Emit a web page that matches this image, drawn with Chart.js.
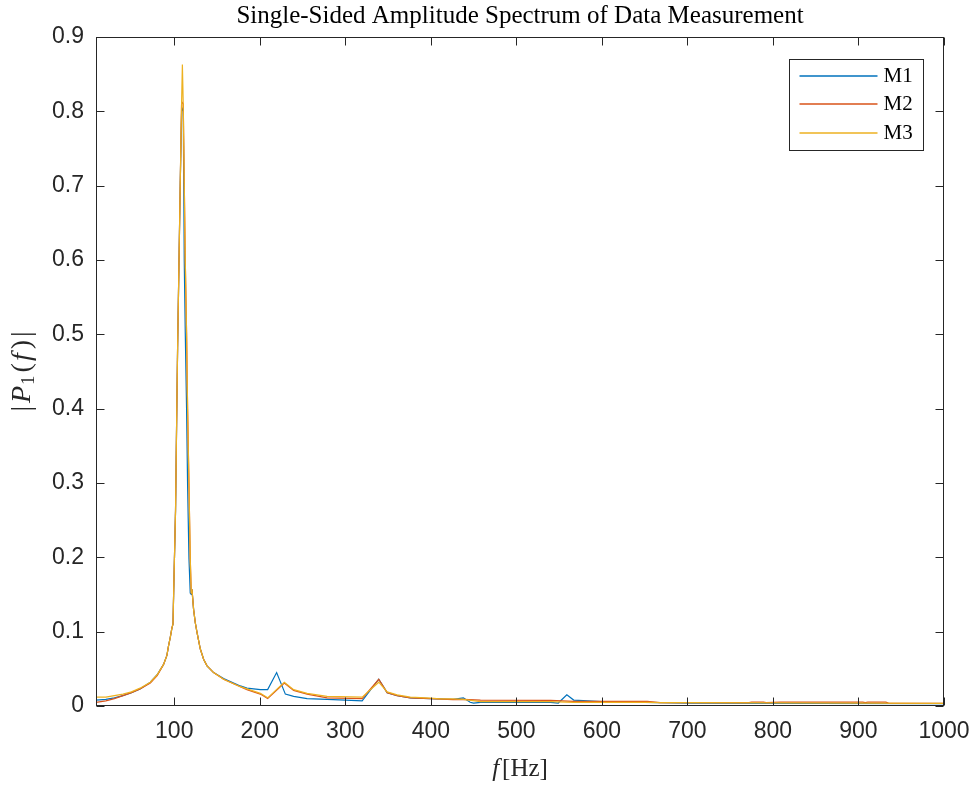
<!DOCTYPE html>
<html>
<head>
<meta charset="utf-8">
<script src="https://cdn.jsdelivr.net/npm/chart.js@4"></script>
<style>
  html, body { margin: 0; padding: 0; background: #fff; }
  #spec { display: block; }
</style>
</head>
<body>
<canvas id="spec" width="976" height="787"></canvas>
<script>
const freqM1 = [8.5, 20, 30, 40, 50, 60, 72, 80, 87.5, 91.4, 93.3, 95.3, 97.3, 98.5, 99.3, 101.5, 102.7, 103.9, 105.5, 107, 108.6, 110.5, 111.7, 112.9, 114.4, 115.6, 117.2, 118.7, 119.9, 120.7, 122.6, 124.6, 126.6, 128.5, 130.4, 134.3, 138.3, 146, 157.7, 169.4, 177.2, 185, 200.7, 209.2, 219.7, 229.9, 239.6, 255.3, 278.7, 300, 319.7, 339.1, 348.9, 360.6, 376, 399.4, 426, 438, 446, 450, 458, 540, 549, 559, 567, 600, 700, 1000];
const ampM1  = [0.008, 0.009, 0.011, 0.014, 0.018, 0.023, 0.032, 0.042, 0.056, 0.068, 0.081, 0.092, 0.105, 0.11, 0.152, 0.263, 0.374, 0.481, 0.595, 0.703, 0.8, 0.805, 0.598, 0.501, 0.4, 0.297, 0.198, 0.152, 0.15, 0.157, 0.13, 0.112, 0.099, 0.088, 0.077, 0.063, 0.054, 0.045, 0.037, 0.031, 0.027, 0.024, 0.022, 0.022, 0.045, 0.016, 0.013, 0.01, 0.009, 0.008, 0.007, 0.036, 0.018, 0.014, 0.011, 0.01, 0.009, 0.011, 0.005, 0.004, 0.005, 0.005, 0.004, 0.015, 0.008, 0.006, 0.004, 0.003];

const freqM2 = [8.5, 20, 30, 40, 50, 60, 72, 80, 87.5, 91.4, 93.3, 95.3, 97.3, 98.5, 99.3, 101.5, 102.7, 103.9, 105.5, 107, 108.6, 110.5, 111.7, 112.9, 114.4, 115.6, 117.2, 118.7, 119.9, 120.7, 122.6, 124.6, 126.6, 128.5, 130.4, 134.3, 138.3, 146, 157.7, 169.4, 177.2, 185, 200.7, 209.2, 228.7, 239.6, 255.3, 278.7, 319.7, 339.1, 348.9, 360.6, 376, 399.4, 426, 438, 458, 540, 567, 653, 668, 772, 775, 789, 792, 809, 905, 908, 911, 932, 935, 1000];
const ampM2  = [0.005, 0.007, 0.01, 0.014, 0.018, 0.023, 0.031, 0.041, 0.056, 0.068, 0.081, 0.092, 0.105, 0.11, 0.152, 0.263, 0.374, 0.481, 0.595, 0.703, 0.813, 0.81, 0.703, 0.598, 0.501, 0.4, 0.297, 0.198, 0.152, 0.157, 0.13, 0.112, 0.099, 0.088, 0.077, 0.063, 0.054, 0.045, 0.036, 0.03, 0.026, 0.022, 0.016, 0.01, 0.031, 0.021, 0.016, 0.011, 0.01, 0.036, 0.018, 0.014, 0.011, 0.01, 0.0085, 0.009, 0.008, 0.0077, 0.0063, 0.0063, 0.0045, 0.0045, 0.0052, 0.0052, 0.0045, 0.0052, 0.0052, 0.0045, 0.0052, 0.0052, 0.0038, 0.0035];

const freqM3 = [8.5, 20, 30, 40, 50, 60, 72, 80, 87.5, 91.4, 93.3, 95.3, 97.3, 98.5, 99.3, 101.5, 102.7, 103.9, 105.5, 107, 108.6, 109.5, 110.5, 111.7, 112.9, 114.4, 115.6, 117.2, 118.7, 119.9, 120.7, 122.6, 124.6, 126.6, 128.5, 130.4, 134.3, 138.3, 146, 157.7, 169.4, 177.2, 185, 200.7, 209.2, 228.7, 239.6, 255.3, 278.7, 319.7, 339.1, 348.9, 360.6, 376, 399.4, 411, 426, 438, 458, 540, 567, 653, 668, 700, 800, 900, 1000];
const ampM3  = [0.012, 0.012, 0.014, 0.016, 0.019, 0.024, 0.032, 0.042, 0.056, 0.068, 0.081, 0.092, 0.105, 0.11, 0.152, 0.263, 0.374, 0.481, 0.595, 0.703, 0.813, 0.863, 0.81, 0.703, 0.598, 0.501, 0.4, 0.297, 0.198, 0.152, 0.157, 0.13, 0.112, 0.099, 0.088, 0.077, 0.063, 0.054, 0.045, 0.036, 0.03, 0.026, 0.023, 0.017, 0.011, 0.032, 0.022, 0.017, 0.013, 0.012, 0.032, 0.019, 0.015, 0.012, 0.0105, 0.0095, 0.0095, 0.009, 0.006, 0.006, 0.005, 0.005, 0.0045, 0.0045, 0.0042, 0.004, 0.0036];

const seriesNames = ['M1', 'M2', 'M3'];
const seriesColors = ['#0072BD', '#D95319', '#EDB120'];
const xTicks = [100, 200, 300, 400, 500, 600, 700, 800, 900, 1000];

function pairs(fs, as) {
  return fs.map((f, i) => ({x: f, y: as[i]}));
}

const serif = '"Liberation Serif", "DejaVu Serif", serif';
const sans = '"Liberation Sans", Arial, sans-serif';

// draws a run of differently styled text pieces centred on (cx, cy)
function drawRich(ctx, parts, cx, cy) {
  let w = 0;
  parts.forEach(p => { ctx.font = p.font; w += ctx.measureText(p.t).width + (p.gap || 0); });
  let x = cx - w / 2;
  parts.forEach(p => {
    ctx.font = p.font;
    ctx.fillText(p.t, x, cy + (p.dy || 0));
    x += ctx.measureText(p.t).width + (p.gap || 0);
  });
}

const matlabFrame = {
  id: 'matlabFrame',
  afterDraw(chart) {
    const {ctx, chartArea: a, scales} = chart;
    const L = Math.round(a.left) + 0.5, R = Math.round(a.right) - 0.5;
    const T = Math.round(a.top) + 0.5, B = Math.round(a.bottom) - 0.5;
    ctx.save();
    ctx.strokeStyle = '#262626';
    ctx.lineWidth = 1;
    ctx.strokeRect(L, T, R - L, B - T);
    ctx.beginPath();
    scales.x.ticks.forEach(t => {
      const px = Math.round(scales.x.getPixelForValue(t.value)) + 0.5;
      ctx.moveTo(px, B); ctx.lineTo(px, B - 8);
      ctx.moveTo(px, T); ctx.lineTo(px, T + 8);
    });
    scales.y.ticks.forEach(t => {
      const py = Math.round(scales.y.getPixelForValue(t.value)) + 0.5;
      ctx.moveTo(L, py); ctx.lineTo(L + 8, py);
      ctx.moveTo(R, py); ctx.lineTo(R - 8, py);
    });
    ctx.stroke();

    // title and axis labels
    const cx = (a.left + a.right) / 2;
    ctx.fillStyle = '#000';
    ctx.textBaseline = 'middle';
    drawRich(ctx, [{t: 'Single-Sided Amplitude Spectrum of Data Measurement', font: '25px ' + serif}], cx, 16);
    ctx.fillStyle = '#262626';
    drawRich(ctx, [
      {t: 'f', font: 'italic 25px ' + serif, gap: 3},
      {t: '[Hz]', font: '25px ' + serif}
    ], cx, 769);
    ctx.save();
    ctx.translate(23, (a.top + a.bottom) / 2);
    ctx.rotate(-Math.PI / 2);
    drawRich(ctx, [
      {t: '|', font: '28px ' + serif, gap: 3},
      {t: 'P', font: 'italic 28px ' + serif, gap: 1},
      {t: '1', font: '19px ' + serif, dy: 6, gap: 3},
      {t: '(', font: '28px ' + serif, gap: 2},
      {t: 'f', font: 'italic 28px ' + serif, gap: 4},
      {t: ')', font: '28px ' + serif, gap: 3},
      {t: '|', font: '28px ' + serif}
    ], 0, 0);
    ctx.restore();

    // legend box, top right inside the axes
    const bw = 134, bh = 91;
    const bx = Math.round(a.right - 21 - bw) + 0.5, by = Math.round(a.top + 22) + 0.5;
    ctx.fillStyle = '#fff';
    ctx.fillRect(bx, by, bw, bh);
    ctx.strokeStyle = '#262626';
    ctx.lineWidth = 1;
    ctx.strokeRect(bx, by, bw, bh);
    chart.data.datasets.forEach((ds, i) => {
      const ry = Math.round(by + 16 + i * 28.5);
      ctx.strokeStyle = ds.borderColor;
      ctx.lineWidth = 1.5;
      ctx.beginPath();
      ctx.moveTo(bx + 10, ry); ctx.lineTo(bx + 88, ry);
      ctx.stroke();
      ctx.fillStyle = '#000';
      ctx.font = '21px ' + serif;
      ctx.textAlign = 'left';
      ctx.fillText(ds.label, bx + 94, ry);
    });
    ctx.restore();
  }
};

const ampData = [pairs(freqM1, ampM1), pairs(freqM2, ampM2), pairs(freqM3, ampM3)];

new Chart(document.getElementById('spec'), {
  type: 'line',
  data: {
    datasets: seriesNames.map((name, i) => ({
      label: name,
      data: ampData[i],
      borderColor: seriesColors[i],
      backgroundColor: seriesColors[i],
      borderWidth: 1.2,
      pointRadius: 0,
      tension: 0,
      fill: false,
      order: 3 - i
    }))
  },
  options: {
    responsive: false,
    animation: false,
    devicePixelRatio: 1,
    parsing: false,
    layout: { padding: { left: 0, right: 32, top: 37, bottom: 0 } },
    plugins: {
      legend: { display: false },
      tooltip: { enabled: false }
    },
    scales: {
      x: {
        type: 'linear',
        min: 8.5,
        max: 1000,
        grid: { display: false },
        border: { display: false },
        afterBuildTicks: s => { s.ticks = xTicks.map(v => ({value: v})); },
        afterFit: s => { s.height = 81; },
        ticks: {
          color: '#262626',
          padding: 4,
          maxRotation: 0,
          autoSkip: false,
          font: { family: sans, size: 23 },
          callback: v => String(v)
        }
      },
      y: {
        min: 0,
        max: 0.9,
        grid: { display: false },
        border: { display: false },
        afterFit: s => { s.width = 96; },
        ticks: {
          stepSize: 0.1,
          color: '#262626',
          padding: 4,
          font: { family: sans, size: 23 },
          callback: v => String(Number(v.toFixed(1)))
        }
      }
    }
  },
  plugins: [matlabFrame]
});
</script>
</body>
</html>
